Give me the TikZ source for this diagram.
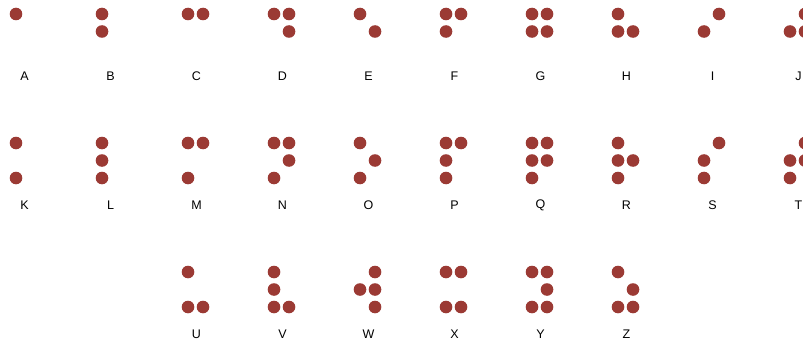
\documentclass[tikz,border=0pt]{standalone}
\usepackage{fontspec}
\setmainfont{Liberation Sans}
\definecolor{dotred}{RGB}{155,58,52}
\tikzset{
  brdot/.style={circle,fill=dotred,draw=none,minimum size=12.6pt,inner sep=0pt},
  brlab/.style={font=\fontsize{12.5}{14}\selectfont,text=black,inner sep=0pt}
}
\newcommand\brcell[4]{%
  \foreach \d in {#4}{%
    \pgfmathtruncatemacro\cc{\d>3}%
    \pgfmathtruncatemacro\rr{\d-1-3*\cc}%
    \node[brdot] (#3\d) at ({#1+15*\cc},{#2+17.5*\rr}) {};
  }%
  \node[brlab] (lab#3) at ({#1+8.5},{#2+62}) {#3};
}
\begin{document}
\begin{tikzpicture}[x=1pt,y=-1pt]
\useasboundingbox[fill=white] (0,0) rectangle (803,345);
% row 1
\brcell{16}{14}{A}{1}
\brcell{102}{14}{B}{1,2}
\brcell{188}{14}{C}{1,4}
\brcell{274}{14}{D}{1,4,5}
\brcell{360}{14}{E}{1,5}
\brcell{446}{14}{F}{1,2,4}
\brcell{532}{14}{G}{1,2,4,5}
\brcell{618}{14}{H}{1,2,5}
\brcell{704}{14}{I}{2,4}
\brcell{790}{14}{J}{2,4,5}
% row 2
\brcell{16}{143}{K}{1,3}
\brcell{102}{143}{L}{1,2,3}
\brcell{188}{143}{M}{1,3,4}
\brcell{274}{143}{N}{1,3,4,5}
\brcell{360}{143}{O}{1,3,5}
\brcell{446}{143}{P}{1,2,3,4}
\brcell{532}{143}{Q}{1,2,3,4,5}
\brcell{618}{143}{R}{1,2,3,5}
\brcell{704}{143}{S}{2,3,4}
\brcell{790}{143}{T}{2,3,4,5}
% row 3
\brcell{188}{272}{U}{1,3,6}
\brcell{274}{272}{V}{1,2,3,6}
\brcell{360}{272}{W}{2,4,5,6}
\brcell{446}{272}{X}{1,3,4,6}
\brcell{532}{272}{Y}{1,3,4,5,6}
\brcell{618}{272}{Z}{1,3,5,6}
\end{tikzpicture}
\end{document}
